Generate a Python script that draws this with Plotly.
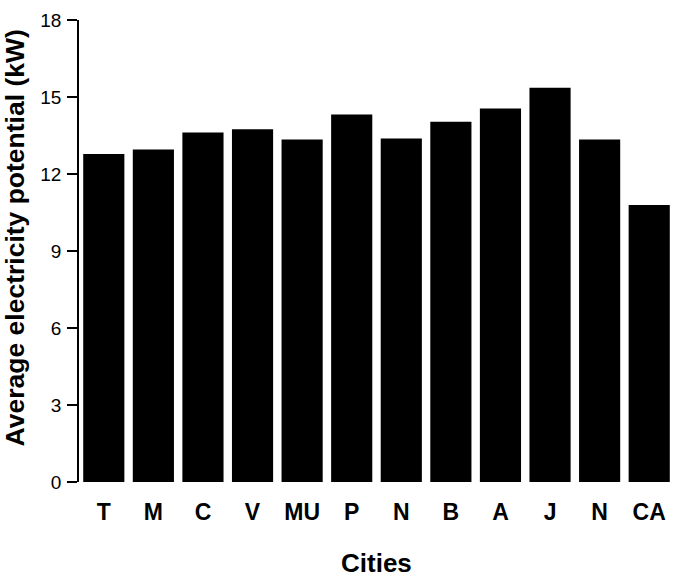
import plotly.graph_objects as go

# City codes along the x axis (two different cities share the code "N")
cities = ["T", "M", "C", "V", "MU", "P", "N", "B", "A", "J", "N", "CA"]
# Average electricity potential per city, in kW
potential_kw = [12.78, 12.95, 13.62, 13.74, 13.34, 14.32, 13.38, 14.04, 14.55, 15.36, 13.34, 10.79]
y_ticks = [0, 3, 6, 9, 12, 15, 18]

positions = list(range(len(cities)))

fig = go.Figure(
    go.Bar(
        x=positions,
        y=potential_kw,
        width=0.83,
        marker=dict(color="black", line=dict(width=0)),
    )
)

font_family = "Liberation Sans, Arial, sans-serif"

fig.update_layout(
    width=683,
    height=579,
    margin=dict(l=79, r=9, t=20, b=97),
    plot_bgcolor="white",
    paper_bgcolor="white",
    showlegend=False,
    font=dict(family=font_family, color="black"),
    xaxis=dict(
        range=[-0.5, 11.5],
        tickmode="array",
        tickvals=positions,
        ticktext=[f"<b>{c}</b>" for c in cities],
        tickfont=dict(size=23, color="black"),
        ticks="",
        ticklabelstandoff=14,
        showline=False,
        showgrid=False,
        zeroline=False,
    ),
    yaxis=dict(
        range=[0, 18],
        tickmode="array",
        tickvals=y_ticks,
        ticktext=[str(v) for v in y_ticks],
        tickfont=dict(size=19, color="black"),
        ticks="outside",
        ticklen=10,
        tickwidth=1.5,
        tickcolor="black",
        ticklabelstandoff=2,
        showline=True,
        linecolor="black",
        linewidth=1.5,
        showgrid=False,
        zeroline=False,
    ),
    annotations=[
        dict(
            text="<b>Average electricity potential (kW)</b>",
            textangle=-90,
            xref="paper", yref="paper",
            x=-0.107, y=0.528,
            xanchor="center", yanchor="middle",
            showarrow=False,
            font=dict(size=26.5, color="black", family=font_family),
        ),
        dict(
            text="<b>Cities</b>",
            xref="paper", yref="paper",
            x=0.5, y=-0.176,
            xanchor="center", yanchor="middle",
            showarrow=False,
            font=dict(size=26, color="black", family=font_family),
        ),
    ],
)

fig.write_html("out.html")
